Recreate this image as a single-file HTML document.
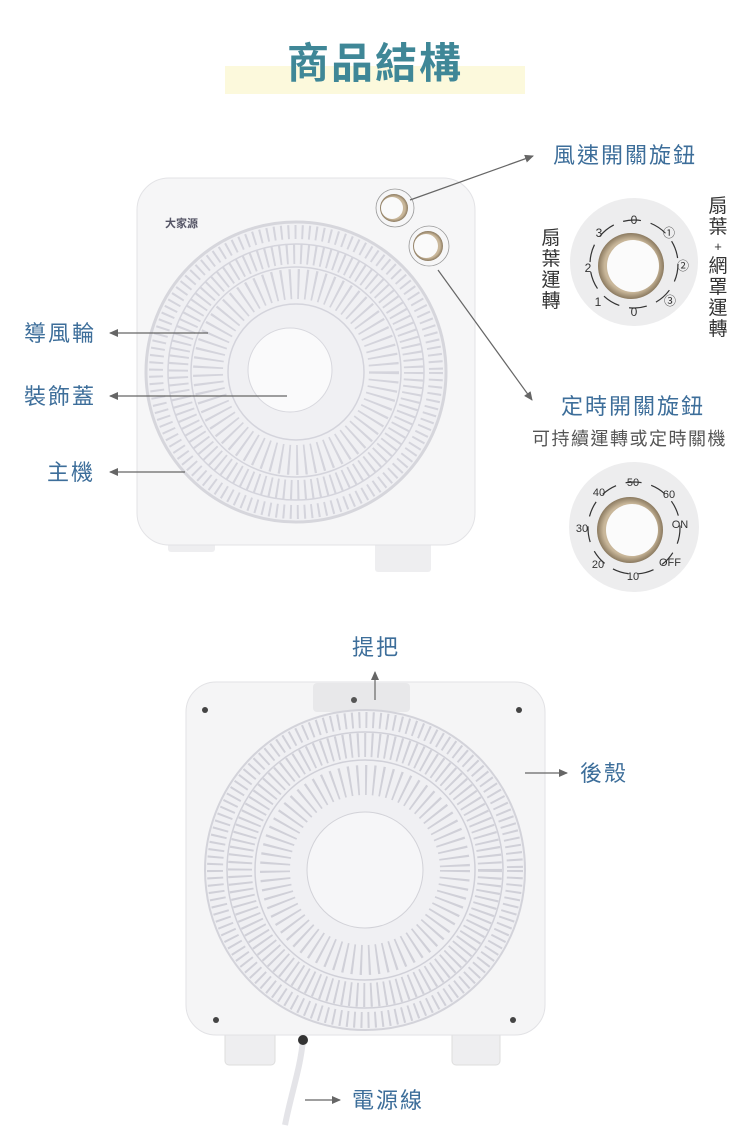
<!DOCTYPE html>
<html><head><meta charset="utf-8"><style>
body{margin:0;background:#fff}
svg{display:block}
text{font-family:"Liberation Sans","Noto Sans CJK TC",sans-serif}
</style></head><body>
<svg width="750" height="1142" viewBox="0 0 750 1142" xmlns="http://www.w3.org/2000/svg">
<defs>
<marker id="ar" markerWidth="10" markerHeight="10" refX="8" refY="4" orient="auto" markerUnits="userSpaceOnUse"><path d="M0,0 L9,4 L0,8 z" fill="#666"/></marker>
<radialGradient id="ring" cx="50%" cy="50%" r="50%"><stop offset="80%" stop-color="#c9b79a"/><stop offset="100%" stop-color="#8b7a60"/></radialGradient>
</defs>
<!-- title -->
<rect x="225" y="66" width="300" height="28" fill="#fcf9dc"/>
<text x="375" y="78" font-size="42" font-weight="bold" fill="#3f8797" text-anchor="middle" letter-spacing="2">商品結構</text>

<!-- front fan -->
<rect x="168" y="530" width="47" height="22" rx="3" fill="#eeeef0"/>
<rect x="375" y="535" width="56" height="37" rx="3" fill="#eeeef0"/>
<rect x="137" y="178" width="338" height="367" rx="32" fill="#f6f6f7" stroke="#e3e3e6"/>
<circle cx="296" cy="372" r="150" fill="#f0f0f3" stroke="#d6d6dc" stroke-width="3"/>
<g fill="none" stroke="#d4d4dc">
<circle cx="296" cy="372" r="140" stroke-width="14" stroke-dasharray="2 5"/>
<circle cx="296" cy="372" r="118" stroke-width="20" stroke-dasharray="2 5"/>
<circle cx="296" cy="372" r="88" stroke-width="30" stroke-dasharray="2 6"/>
<circle cx="296" cy="372" r="128" stroke-width="1.5"/>
<circle cx="296" cy="372" r="105" stroke-width="1.5"/>
<circle cx="296" cy="372" r="68" stroke-width="1.5"/>
</g>
<circle cx="290" cy="370" r="42" fill="#fafafb" stroke="#d8d8de"/>
<text x="165" y="227" font-size="11" fill="#556" font-weight="bold">大家源</text>
<circle cx="394" cy="208" r="14" fill="url(#ring)"/><circle cx="392" cy="208" r="11" fill="#fafafa"/>
<circle cx="395" cy="208" r="19" fill="none" stroke="#999" stroke-width="0.8"/>
<circle cx="428" cy="246" r="15" fill="url(#ring)"/><circle cx="426" cy="246" r="12" fill="#fafafa"/>
<circle cx="429" cy="246" r="20" fill="none" stroke="#999" stroke-width="0.8"/>

<!-- front labels -->
<g font-size="22" fill="#3d6e9a" letter-spacing="2">
<text x="24" y="341">導風輪</text>
<text x="24" y="404">裝飾蓋</text>
<text x="47" y="480">主機</text>
<text x="553" y="163">風速開關旋鈕</text>
<text x="561" y="414">定時開關旋鈕</text>
</g>
<text x="532" y="445" font-size="18" fill="#555" letter-spacing="1.5">可持續運轉或定時關機</text>
<g stroke="#666" stroke-width="1.2" fill="none">
<line x1="208" y1="333" x2="110" y2="333" marker-end="url(#ar)"/>
<line x1="287" y1="396" x2="110" y2="396" marker-end="url(#ar)"/>
<line x1="185" y1="472" x2="110" y2="472" marker-end="url(#ar)"/>
<line x1="410" y1="200" x2="533" y2="156" marker-end="url(#ar)"/>
<line x1="438" y1="270" x2="532" y2="400" marker-end="url(#ar)"/>
</g>

<!-- knob detail 1 -->
<circle cx="634" cy="262" r="64" fill="#ededee"/>
<circle cx="634" cy="264" r="44" fill="none" stroke="#333" stroke-width="1.2" stroke-dasharray="18 10"/>
<circle cx="631" cy="266" r="33" fill="url(#ring)"/>
<circle cx="633" cy="266" r="26" fill="#fbfbfb"/>
<g font-size="12" fill="#333" text-anchor="middle">
<text x="634" y="224">0</text><text x="634" y="316">0</text><text x="599" y="237">3</text><text x="588" y="272">2</text><text x="598" y="306">1</text>
<text x="669" y="237">①</text><text x="683" y="270">②</text><text x="670" y="305">③</text></g>
<g font-size="19" fill="#333" text-anchor="middle">
<text x="551" y="244">扇</text><text x="551" y="265">葉</text><text x="551" y="286">運</text><text x="551" y="307">轉</text>
<text x="718" y="212">扇</text><text x="718" y="233">葉</text><text x="718" y="251" font-size="13">+</text><text x="718" y="272">網</text><text x="718" y="293">罩</text><text x="718" y="314">運</text><text x="718" y="335">轉</text></g>

<!-- knob detail 2 -->
<circle cx="634" cy="527" r="65" fill="#ededee"/>
<circle cx="634" cy="528" r="46" fill="none" stroke="#333" stroke-width="1.2" stroke-dasharray="16 10"/>
<circle cx="630" cy="530" r="33" fill="url(#ring)"/>
<circle cx="632" cy="530" r="26" fill="#fbfbfb"/>
<g font-size="11" fill="#333" text-anchor="middle">
<text x="633" y="486">50</text><text x="599" y="496">40</text><text x="669" y="498">60</text><text x="582" y="532">30</text><text x="680" y="528">ON</text><text x="598" y="568">20</text><text x="633" y="580">10</text><text x="670" y="566">OFF</text></g>

<!-- back fan -->
<rect x="225" y="1030" width="50" height="35" rx="4" fill="#eeeef0" stroke="#ddd"/>
<rect x="452" y="1030" width="48" height="35" rx="4" fill="#eeeef0" stroke="#ddd"/>
<rect x="186" y="682" width="359" height="353" rx="30" fill="#f5f5f6" stroke="#e2e2e5"/>
<rect x="313" y="683" width="97" height="29" rx="4" fill="#e8e8ea"/>
<circle cx="354" cy="700" r="3" fill="#555"/>
<g fill="#444"><circle cx="205" cy="710" r="3"/><circle cx="519" cy="710" r="3"/><circle cx="216" cy="1020" r="3"/><circle cx="513" cy="1020" r="3"/></g>
<circle cx="365" cy="870" r="160" fill="#f0f0f3" stroke="#d3d3da" stroke-width="2"/>
<g fill="none" stroke="#d0d0d8">
<circle cx="365" cy="870" r="150" stroke-width="16" stroke-dasharray="2 5"/>
<circle cx="365" cy="870" r="125" stroke-width="24" stroke-dasharray="2 5"/>
<circle cx="365" cy="870" r="90" stroke-width="30" stroke-dasharray="2 6"/>
<circle cx="365" cy="870" r="138" stroke-width="1.5"/>
<circle cx="365" cy="870" r="110" stroke-width="1.5"/>
</g>
<circle cx="365" cy="870" r="58" fill="#f6f6f8" stroke="#d2d2d8"/>
<path d="M303,1040 C300,1070 292,1090 285,1125" stroke="#e4e4e8" stroke-width="6" fill="none"/>
<circle cx="303" cy="1040" r="5" fill="#333"/>

<g font-size="22" fill="#3d6e9a" letter-spacing="2">
<text x="352" y="655">提把</text>
<text x="580" y="781">後殼</text>
<text x="352" y="1108">電源線</text>
</g>
<g stroke="#666" stroke-width="1.2" fill="none">
<line x1="375" y1="700" x2="375" y2="672" marker-end="url(#ar)"/>
<line x1="525" y1="773" x2="567" y2="773" marker-end="url(#ar)"/>
<line x1="305" y1="1100" x2="340" y2="1100" marker-end="url(#ar)"/>
</g>
</svg>
</body></html>
